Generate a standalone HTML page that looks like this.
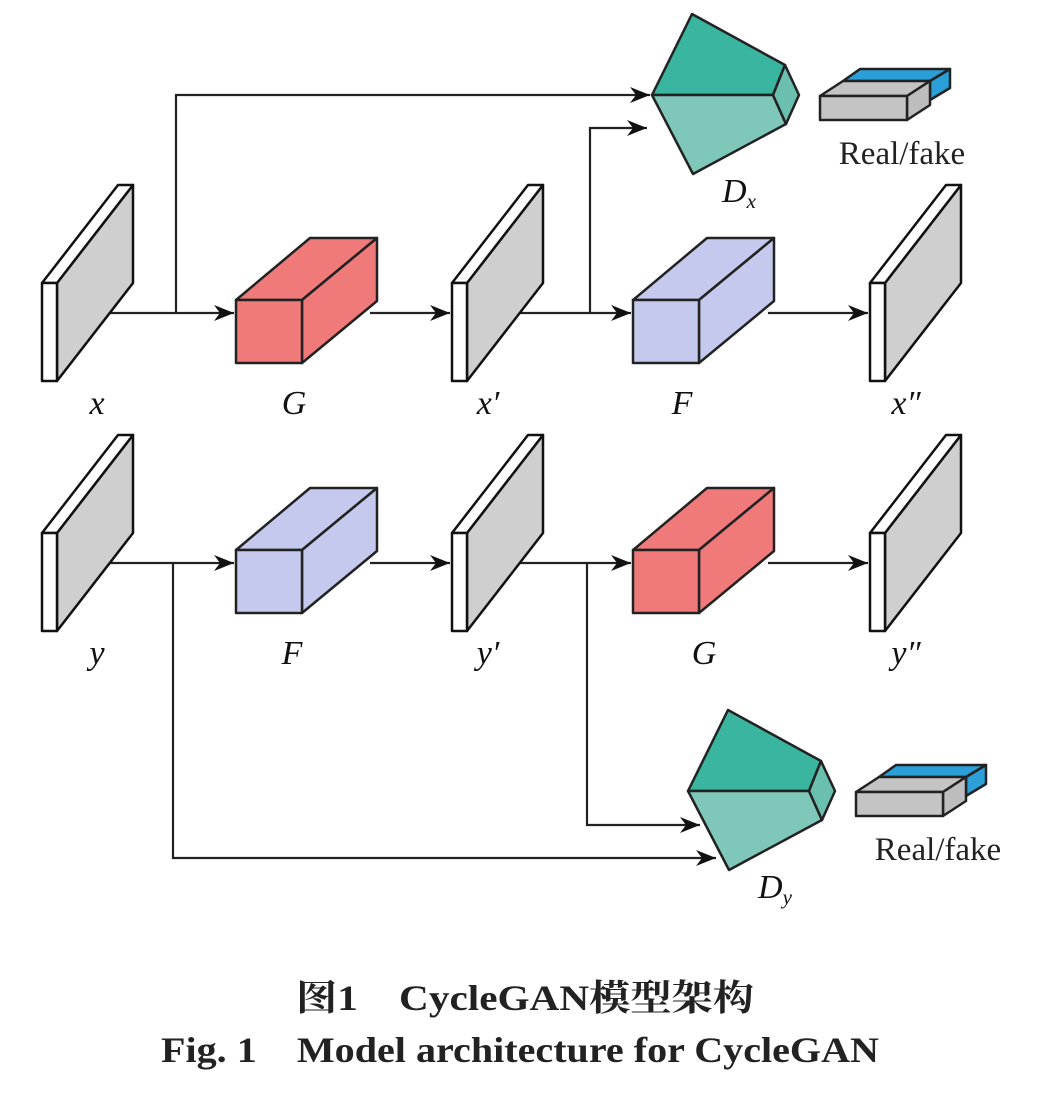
<!DOCTYPE html>
<html><head><meta charset="utf-8"><style>
html,body{margin:0;padding:0;background:#fff;}
svg{display:block}
.t{font-family:"Liberation Serif",serif;font-style:italic;font-size:34px;fill:#111}
.rf{font-family:"Liberation Serif",serif;font-size:33px;fill:#222}
.cap{font-family:"Liberation Serif","Noto Serif CJK SC",serif;font-weight:bold;font-size:36px;fill:#222}
</style></head><body>
<svg width="1054" height="1107" viewBox="0 0 1054 1107" xmlns="http://www.w3.org/2000/svg">
<defs>
<g id="plane" stroke="#111" stroke-width="2.5" stroke-linejoin="round">
<polygon points="15,0 91,-98 91,0 15,98" fill="#cfcfcf"/>
<polygon points="0,0 76,-98 91,-98 15,0" fill="#fff"/>
<rect x="0" y="0" width="15" height="98" fill="#fff"/>
</g>
<g id="boxR" stroke="#222" stroke-width="2.5" stroke-linejoin="round" fill="#f07a7a">
<polygon points="0,0 74,-62 141,-62 66,0"/>
<polygon points="66,0 141,-62 141,1 66,63"/>
<rect x="0" y="0" width="66" height="63"/>
</g>
<g id="boxB" stroke="#222" stroke-width="2.5" stroke-linejoin="round" fill="#c6c9ee">
<polygon points="0,0 74,-62 141,-62 66,0"/>
<polygon points="66,0 141,-62 141,1 66,63"/>
<rect x="0" y="0" width="66" height="63"/>
</g>
<g id="disc" stroke="#222" stroke-width="2.5" stroke-linejoin="round">
<polygon points="652,95 692,14 785,65 773,95" fill="#3ab5a0"/>
<polygon points="652,95 773,95 786,124 693,174" fill="#7fc7b9"/>
<polygon points="773,95 785,65 799,95 786,124" fill="#6bbfae"/>
<polygon points="843,81 860,69 950,69 930,81" fill="#2a9fd8"/>
<polygon points="930,81 950,69 950,88 930,100" fill="#2a9fd8"/>
<polygon points="820,96 843,81 930,81 907,96" fill="#c4c4c4"/>
<polygon points="907,96 930,81 930,105 907,120" fill="#bdbdbd"/>
<rect x="820" y="96" width="87" height="24" fill="#c4c4c4"/>
<text class="rf" x="902" y="164" text-anchor="middle" stroke="none">Real/fake</text>
</g>
<marker id="ah" markerWidth="22" markerHeight="16" refX="20" refY="8" orient="auto" markerUnits="userSpaceOnUse">
<path d="M0,0 L20,8 L0,16 L6,8 Z" fill="#111"/>
</marker>
</defs>

<g stroke="#222" stroke-width="2.2" fill="none">
<path d="M110,313 H234" marker-end="url(#ah)"/>
<path d="M176,313 V95 H650" marker-end="url(#ah)"/>
<path d="M370,313 H450" marker-end="url(#ah)"/>
<path d="M520,313 H631" marker-end="url(#ah)"/>
<path d="M590,313 V128 H647" marker-end="url(#ah)"/>
<path d="M768,313 H868" marker-end="url(#ah)"/>
<path d="M110,563 H234" marker-end="url(#ah)"/>
<path d="M173,563 V858 H716" marker-end="url(#ah)"/>
<path d="M370,563 H450" marker-end="url(#ah)"/>
<path d="M520,563 H631" marker-end="url(#ah)"/>
<path d="M587,563 V825 H700" marker-end="url(#ah)"/>
<path d="M768,563 H868" marker-end="url(#ah)"/>
</g>

<use href="#plane" x="42" y="283"/>
<use href="#plane" x="452" y="283"/>
<use href="#plane" x="870" y="283"/>
<use href="#plane" x="42" y="533"/>
<use href="#plane" x="452" y="533"/>
<use href="#plane" x="870" y="533"/>
<use href="#boxR" x="236" y="300"/>
<use href="#boxB" x="633" y="300"/>
<use href="#boxB" x="236" y="550"/>
<use href="#boxR" x="633" y="550"/>

<use href="#disc"/>
<use href="#disc" x="36" y="696"/>

<text class="t" x="97" y="414" text-anchor="middle">x</text>
<text class="t" x="294" y="414" text-anchor="middle">G</text>
<text class="t" x="488" y="414" text-anchor="middle">x′</text>
<text class="t" x="682" y="414" text-anchor="middle">F</text>
<text class="t" x="906" y="414" text-anchor="middle">x″</text>
<text class="t" x="97" y="664" text-anchor="middle">y</text>
<text class="t" x="292" y="664" text-anchor="middle">F</text>
<text class="t" x="488" y="664" text-anchor="middle">y′</text>
<text class="t" x="704" y="664" text-anchor="middle">G</text>
<text class="t" x="906" y="664" text-anchor="middle">y″</text>
<text class="t" x="722" y="202">D<tspan font-size="21" dy="6">x</tspan></text>
<text class="t" x="758" y="898">D<tspan font-size="21" dy="6">y</tspan></text>

<text class="cap" x="296" y="1010" textLength="458" lengthAdjust="spacingAndGlyphs">图1　CycleGAN模型架构</text>
<text class="cap" x="161" y="1062" textLength="718" lengthAdjust="spacingAndGlyphs">Fig. 1　Model architecture for CycleGAN</text>
</svg>
</body></html>
